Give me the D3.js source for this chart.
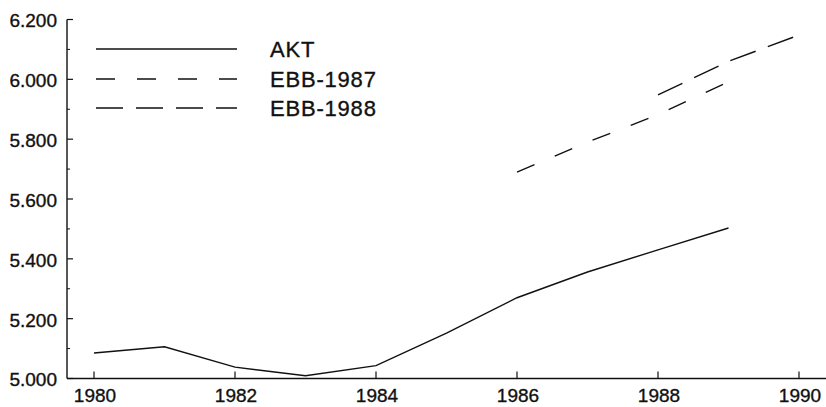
<!DOCTYPE html>
<html>
<head>
<meta charset="utf-8">
<script src="https://cdn.jsdelivr.net/npm/d3@7"></script>
<style>
  body { margin: 0; background: #fff; }
  text { font-family: "Liberation Sans", Arial, sans-serif; fill: #111; stroke: #111; stroke-width: 0.35px; }
</style>
</head>
<body>
<div id="chart"></div>
<script>
// Data
const years = [1980, 1981, 1982, 1983, 1984, 1985, 1986, 1987, 1988, 1989];
const akt = [5.085, 5.106, 5.038, 5.009, 5.043, 5.152, 5.270, 5.356, 5.430, 5.503];
const ebb1987Years = [1986, 1987, 1988, 1989];
const ebb1987 = [5.690, 5.790, 5.882, 5.992];
const ebb1988Years = [1988, 1989, 1990];
const ebb1988 = [5.948, 6.060, 6.148];
const xTicks = [1980, 1982, 1984, 1986, 1988, 1990];
const yTicks = [5.0, 5.2, 5.4, 5.6, 5.8, 6.0, 6.2];
const yMinor = [5.1, 5.3, 5.5, 5.7, 5.9, 6.1];

const series = [
  { name: "AKT", x: years, y: akt, dash: null },
  { name: "EBB-1987", x: ebb1987Years, y: ebb1987, dash: "19,22" },
  { name: "EBB-1988", x: ebb1988Years, y: ebb1988, dash: "27,13" }
];

const width = 826;
const height = 407;

const svg = d3.select("#chart")
  .append("svg")
    .attr("width", width)
    .attr("height", height);

// Scales
const x = d3.scaleLinear().domain([1980, 1990]).range([94, 799]);
const y = d3.scaleLinear().domain([5.0, 6.2]).range([378.5, 19.5]);
const axisX = 67;

// Y axis: ticks point inward (right)
svg.append("line")
  .attr("x1", axisX).attr("x2", axisX)
  .attr("y1", y(6.2)).attr("y2", y(5.0))
  .attr("stroke", "#111").attr("stroke-width", 1.4);

svg.selectAll(".ytick")
  .data(yTicks)
  .enter().append("line")
    .attr("x1", axisX).attr("x2", axisX + 6)
    .attr("y1", d => y(d)).attr("y2", d => y(d))
    .attr("stroke", "#111").attr("stroke-width", 1.2);

svg.selectAll(".yminor")
  .data(yMinor)
  .enter().append("line")
    .attr("x1", axisX).attr("x2", axisX + 3)
    .attr("y1", d => y(d)).attr("y2", d => y(d))
    .attr("stroke", "#111").attr("stroke-width", 1);

svg.selectAll(".ylabel")
  .data(yTicks)
  .enter().append("text")
    .attr("x", 57)
    .attr("y", d => y(d) + 1)
    .attr("dy", "0.36em")
    .attr("text-anchor", "end")
    .style("font-size", "19px")
    .text(d => d3.format(".3f")(d));

// X axis: line to right edge, ticks point up
svg.append("line")
  .attr("x1", axisX).attr("x2", width)
  .attr("y1", y(5.0)).attr("y2", y(5.0))
  .attr("stroke", "#111").attr("stroke-width", 1.6);

svg.selectAll(".xtick")
  .data(xTicks)
  .enter().append("line")
    .attr("x1", d => x(d)).attr("x2", d => x(d))
    .attr("y1", y(5.0)).attr("y2", y(5.0) - 7)
    .attr("stroke", "#111").attr("stroke-width", 1.2);

svg.selectAll(".xlabel")
  .data(xTicks)
  .enter().append("text")
    .attr("x", d => x(d) + 1)
    .attr("y", 402)
    .attr("text-anchor", "middle")
    .style("font-size", "19px")
    .text(d => d);

// Lines
const line = d3.line()
  .x(d => x(d[0]))
  .y(d => y(d[1]));

series.forEach(s => {
  svg.append("path")
    .datum(s.x.map((v, i) => [v, s.y[i]]))
    .attr("d", line)
    .attr("fill", "none")
    .attr("stroke", "#111")
    .attr("stroke-width", 1.4)
    .attr("stroke-dasharray", s.dash);
});

// Legend
const legendY = [49, 79, 108];
series.forEach((s, i) => {
  svg.append("line")
    .attr("x1", 96).attr("x2", 237)
    .attr("y1", legendY[i]).attr("y2", legendY[i])
    .attr("stroke", "#111")
    .attr("stroke-width", 1.4)
    .attr("stroke-dasharray", s.dash);
  svg.append("text")
    .attr("x", 270)
    .attr("y", legendY[i])
    .attr("dy", "0.36em")
    .style("font-size", "22px")
    .style("letter-spacing", "0.8px")
    .text(s.name);
});
</script>
</body>
</html>
